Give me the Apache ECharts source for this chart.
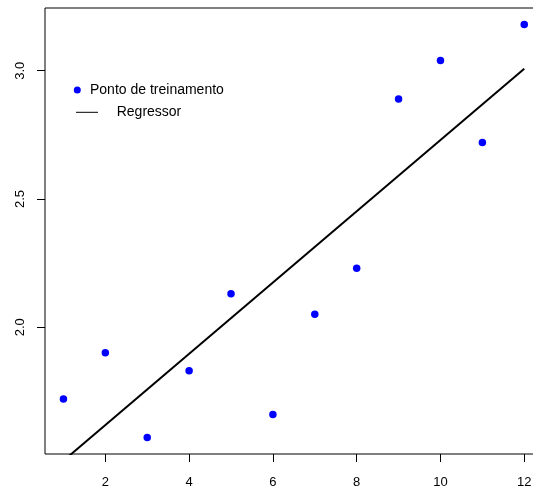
<!DOCTYPE html>
<html>
<head>
<meta charset="utf-8">
<script src="https://cdn.jsdelivr.net/npm/echarts@6/dist/echarts.min.js"></script>
<style>
  html, body { margin: 0; padding: 0; background: #ffffff; overflow: hidden; }
  /* the plot frame runs past the right edge of the window */
  #chart { width: 548px; height: 491px; }
</style>
</head>
<body>
<div id="chart"></div>
<script>
// Training data
const xValues = [1, 2, 3, 4, 5, 6, 7, 8, 9, 10, 11, 12];
const yValues = [1.72, 1.90, 1.57, 1.83, 2.13, 1.66, 2.05, 2.23, 2.89, 3.04, 2.72, 3.18];

// Axis ticks
const xTicks = [2, 4, 6, 8, 10, 12];
const yTicks = [2.0, 2.5, 3.0];
const yTickLabels = ['2.0', '2.5', '3.0'];

// Legend labels
const pointLabel = 'Ponto de treinamento';
const lineLabel = 'Regressor';

// Least-squares fit of the training points
const n = xValues.length;
const mx = xValues.reduce((a, b) => a + b, 0) / n;
const my = yValues.reduce((a, b) => a + b, 0) / n;
let sxy = 0, sxx = 0;
for (let i = 0; i < n; i++) {
  sxy += (xValues[i] - mx) * (yValues[i] - my);
  sxx += (xValues[i] - mx) * (xValues[i] - mx);
}
const slope = sxy / sxx;
const intercept = my - slope * mx;
const xFirst = xValues[0], xLast = xValues[n - 1];
const fitLine = [[xFirst, intercept + slope * xFirst], [xLast, intercept + slope * xLast]];

// Axis ranges padded by 4% on each side
const xMinD = Math.min(...xValues), xMaxD = Math.max(...xValues);
const yMinD = Math.min(...yValues), yMaxD = Math.max(...yValues);
const xPad = (xMaxD - xMinD) * 0.04, yPad = (yMaxD - yMinD) * 0.04;

const font = "'Liberation Sans', Arial, Helvetica, sans-serif";

const chart = echarts.init(document.getElementById('chart'), null, { renderer: 'canvas' });
chart.setOption({
  animation: false,
  backgroundColor: '#ffffff',
  grid: {
    left: 45, top: 8, width: 497.7, height: 446,
    show: true, borderColor: '#000000', borderWidth: 1, backgroundColor: 'transparent'
  },
  xAxis: {
    type: 'value',
    min: xMinD - xPad, max: xMaxD + xPad,
    axisLine: { show: false },
    splitLine: { show: false },
    axisTick: { show: true, customValues: xTicks, length: 8, lineStyle: { color: '#000', width: 1 } },
    axisLabel: {
      customValues: xTicks, color: '#000', fontSize: 13, fontFamily: font,
      margin: 28, verticalAlign: 'middle'
    }
  },
  yAxis: {
    type: 'value',
    min: yMinD - yPad, max: yMaxD + yPad,
    axisLine: { show: false },
    splitLine: { show: false },
    axisTick: { show: true, customValues: yTicks, length: 8, lineStyle: { color: '#000', width: 1 } },
    axisLabel: {
      customValues: yTicks, color: '#000', fontSize: 13, fontFamily: font,
      rotate: 90, margin: 25, align: 'center', verticalAlign: 'middle',
      formatter: (v) => yTickLabels[yTicks.findIndex(t => Math.abs(t - v) < 1e-9)]
    }
  },
  legend: [
    {
      data: [{ name: pointLabel, icon: 'circle' }],
      left: 73.8, top: 83, padding: 0,
      itemWidth: 7, itemHeight: 7, selectedMode: false,
      textStyle: { color: '#000', fontSize: 14, fontFamily: font, padding: [0, 0, 0, 4.2] }
    },
    {
      data: [{ name: lineLabel, icon: 'rect' }],
      left: 76, top: 105.3, padding: 0,
      itemWidth: 22, itemHeight: 1, selectedMode: false,
      itemStyle: { color: '#000' },
      textStyle: { color: '#000', fontSize: 14, fontFamily: font, padding: [0, 0, 0, 13.7] }
    }
  ],
  series: [
    {
      name: pointLabel,
      type: 'scatter',
      data: xValues.map((x, i) => [x, yValues[i]]),
      symbol: 'circle',
      symbolSize: 7.5,
      itemStyle: { color: '#0000ff', opacity: 1 },
      z: 3
    },
    {
      name: lineLabel,
      type: 'line',
      data: fitLine,
      showSymbol: false,
      symbol: 'none',
      clip: true,
      lineStyle: { color: '#000', width: 2 },
      itemStyle: { color: '#000' },
      z: 2
    }
  ]
});
</script>
</body>
</html>
